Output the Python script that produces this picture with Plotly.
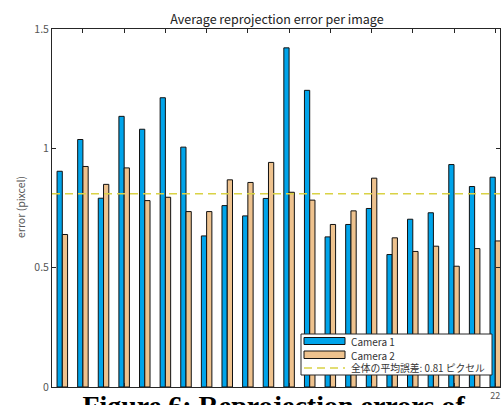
import plotly.graph_objects as go

# ---- data ----
images = list(range(1, 23))
camera1 = [0.904, 1.037, 0.791, 1.134, 1.080, 1.212, 1.005, 0.633, 0.760, 0.717, 0.790,
           1.421, 1.243, 0.629, 0.681, 0.748, 0.555, 0.703, 0.730, 0.932, 0.840, 0.879]
camera2 = [0.639, 0.924, 0.849, 0.918, 0.781, 0.795, 0.735, 0.735, 0.868, 0.857, 0.941,
           0.816, 0.783, 0.681, 0.738, 0.875, 0.625, 0.568, 0.590, 0.506, 0.580, 0.612]
mean_error = 0.81
x_ticks = list(range(2, 23, 2))
y_ticks = [0, 0.5, 1, 1.5]
y_tick_labels = ["0", "0.5", "1", "1.5"]
series_names = ["Camera 1", "Camera 2"]
mean_label = "全体の平均誤差: 0.81 ピクセル"
title_text = "Average reprojection error per image"
y_title = "error (pixcel)"
caption = "Figure 6: Reprojection errors of"

W, H = 501, 405
ML, MR, MT, MB = 52, 1, 29, 18
PW, PH = W - ML - MR, H - MT - MB

def px(x):
    return (x - ML) / PW

def py(y):
    return (H - MB - y) / PH

BLUE = "#00a4ea"
TAN = "#eec28e"
DASH = "#d9d245"
AXC = "#262626"
FONT = "Noto Sans CJK JP, Liberation Sans, sans-serif"

fig = go.Figure()
fig.add_trace(go.Bar(x=images, y=camera1, name=series_names[0], marker=dict(color=BLUE, line=dict(color="#111111", width=1))))
fig.add_trace(go.Bar(x=images, y=camera2, name=series_names[1], marker=dict(color=TAN, line=dict(color="#111111", width=1))))

shapes = [
    dict(type="line", xref="paper", x0=0, x1=1, yref="y", y0=mean_error, y1=mean_error,
         line=dict(color=DASH, width=1.5, dash="8px,5px"), layer="above"),
    # manual legend
    dict(type="rect", xref="paper", yref="paper", x0=px(301), x1=px(492), y0=py(375), y1=py(334),
         fillcolor="white", line=dict(color=AXC, width=1), layer="above"),
    dict(type="rect", xref="paper", yref="paper", x0=px(304), x1=px(345), y0=py(344.5), y1=py(337.5),
         fillcolor=BLUE, line=dict(color="#111111", width=1), layer="above"),
    dict(type="rect", xref="paper", yref="paper", x0=px(304), x1=px(345), y0=py(358.5), y1=py(351),
         fillcolor=TAN, line=dict(color="#111111", width=1), layer="above"),
    dict(type="line", xref="paper", yref="paper", x0=px(304), x1=px(345), y0=py(368), y1=py(368),
         line=dict(color=DASH, width=1.5, dash="8px,5px"), layer="above"),
]

annotations = [
    dict(text=series_names[0], xref="paper", yref="paper", x=px(349), y=py(341), xanchor="left", yanchor="middle",
         showarrow=False, font=dict(family=FONT, size=10, color="#333333")),
    dict(text=series_names[1], xref="paper", yref="paper", x=px(349), y=py(355), xanchor="left", yanchor="middle",
         showarrow=False, font=dict(family=FONT, size=10, color="#333333")),
    dict(text=mean_label, xref="paper", yref="paper", x=px(349), y=py(368), xanchor="left", yanchor="middle",
         showarrow=False, font=dict(family=FONT, size=9.8, color="#333333")),
    dict(text=y_title, xref="paper", yref="paper", x=px(20), y=py(207), xanchor="center", yanchor="middle",
         textangle=-90, showarrow=False, font=dict(family=FONT, size=10.5, color="#555555")),
    dict(text="<b>" + caption + "</b>", xref="paper", yref="paper", x=px(274), y=py(388.5), xanchor="center", yanchor="top",
         showarrow=False, bgcolor="white", borderpad=0, width=400, align="center",
         font=dict(family="Liberation Serif, Times New Roman, serif", size=28, color="black")),
]

fig.update_layout(
    width=W, height=H,
    margin=dict(l=ML, r=MR, t=MT, b=MB, pad=0),
    paper_bgcolor="white", plot_bgcolor="white",
    barmode="group", bargap=0.49, bargroupgap=0,
    showlegend=False,
    title=dict(text=title_text, x=px(277), xref="paper", xanchor="center", y=1 - 20 / H, yref="container",
               yanchor="middle", font=dict(family=FONT, size=12.5, color="#222222")),
    shapes=shapes, annotations=annotations,
)
fig.update_xaxes(range=[0.5, 22.23], tickvals=x_ticks, ticks="inside", ticklen=4, tickcolor=AXC,
                 showline=True, linecolor=AXC, linewidth=1, mirror="ticks", showgrid=False, zeroline=False,
                 tickfont=dict(family=FONT, size=9, color="#555555"))
fig.update_yaxes(range=[0, 1.5], tickvals=y_ticks, ticktext=y_tick_labels, ticks="inside", ticklen=4, tickcolor=AXC,
                 showline=True, linecolor=AXC, linewidth=1, mirror="ticks", showgrid=False, zeroline=False,
                 tickfont=dict(family=FONT, size=10.5, color="#555555"))

fig.write_html("out.html", config={"displayModeBar": False},
               post_script="document.body.style.margin='0';document.body.style.overflow='hidden';")
